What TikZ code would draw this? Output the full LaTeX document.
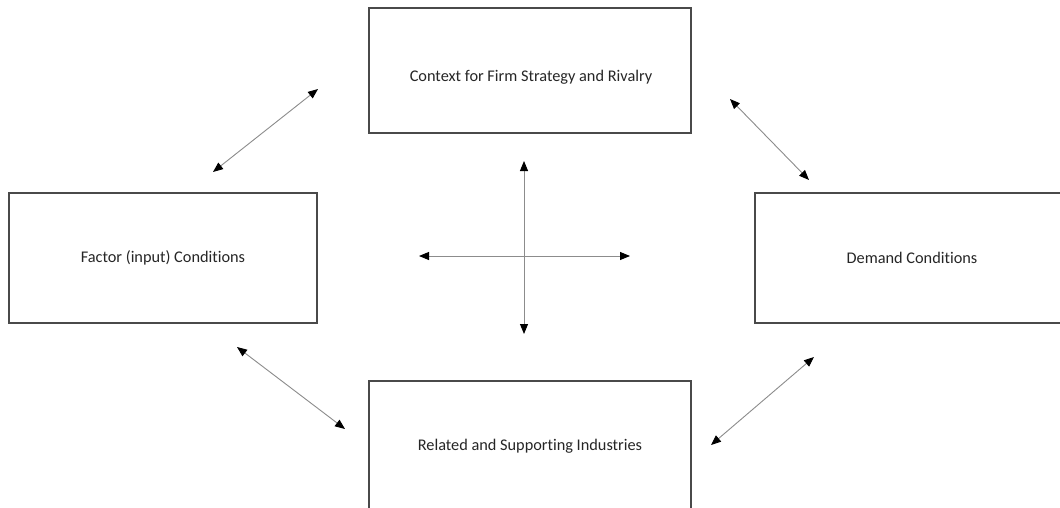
\documentclass[tikz,border=0pt]{standalone}
\usepackage{fontspec}
\setmainfont[Ligatures={NoCommon}]{Carlito}
\usetikzlibrary{arrows.meta}
\definecolor{boxline}{HTML}{4A4A4A}
\definecolor{arrline}{HTML}{8C8C8C}
\begin{document}
\begin{tikzpicture}[x=1pt,y=-1pt,
  box/.style={draw=boxline, line width=1.3pt, fill=white, minimum width=#1, inner sep=0pt, text=black!85, font=\fontsize{16.3}{19}\selectfont},
  lbl/.style={text=black!85, font=\fontsize{16.3}{19}\selectfont, inner sep=0pt},
  dbl/.style={draw=arrline, line width=0.9pt, {Triangle[length=10pt,width=8pt,color=black]}-{Triangle[length=10pt,width=8pt,color=black]}}]
\useasboundingbox (0,0) rectangle (1060,508);
\fill[white] (0,0) rectangle (1060,508);
\clip (0,0) rectangle (1060,508);
% boxes
\node[box=322pt, minimum height=125pt] (ctx) at (530,70.5) {};
\node[lbl] (ctxlbl) at (531,77) {Context for Firm Strategy and Rivalry};
\node[box=308pt, minimum height=130pt] (fac) at (163,258) {Factor (input) Conditions};
\node[box=314pt, minimum height=130pt] (dem) at (912,258) {Demand Conditions};
\node[box=322pt, minimum height=130pt] (rel) at (530,446) {Related and Supporting Industries};
% arrow end points
\coordinate (tl1) at (213,172);
\coordinate (tl2) at (318,89);
\coordinate (tr1) at (730,99);
\coordinate (tr2) at (809,180);
\coordinate (bl1) at (237,347);
\coordinate (bl2) at (345,429);
\coordinate (br1) at (711,445);
\coordinate (br2) at (814,357);
\coordinate (hl) at (419,256);
\coordinate (hr) at (630,256);
\coordinate (vt) at (524,161);
\coordinate (vb) at (524,334);
\draw[dbl] (tl1) -- (tl2);
\draw[dbl] (tr1) -- (tr2);
\draw[dbl] (bl1) -- (bl2);
\draw[dbl] (br1) -- (br2);
\draw[dbl] (hl) -- (hr);
\draw[dbl] (vt) -- (vb);
\end{tikzpicture}
\end{document}
